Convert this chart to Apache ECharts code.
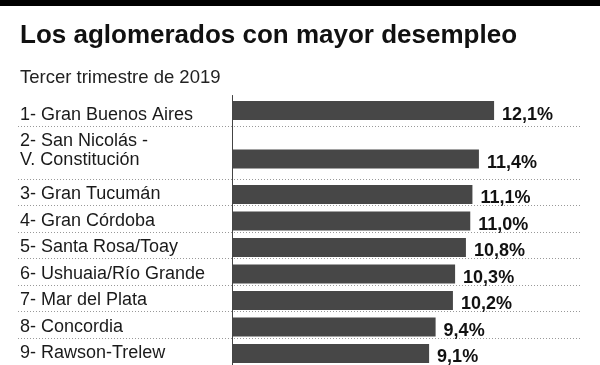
<!DOCTYPE html>
<html>
<head>
<meta charset="utf-8">
<script src="https://cdn.jsdelivr.net/npm/echarts@6/dist/echarts.min.js"></script>
<style>
  html, body { margin: 0; padding: 0; background: #fff; }
  #chart { width: 600px; height: 365px; }
</style>
</head>
<body>
<div id="chart"></div>
<script>
// ---- Data ----
const titleText = 'Los aglomerados con mayor desempleo';
const subtitleText = 'Tercer trimestre de 2019';
const categories = [
  '1- Gran Buenos Aires',
  '2- San Nicolás -\nV. Constitución',
  '3- Gran Tucumán',
  '4- Gran Córdoba',
  '5- Santa Rosa/Toay',
  '6- Ushuaia/Río Grande',
  '7- Mar del Plata',
  '8- Concordia',
  '9- Rawson-Trelew'
];
const values = [12.1, 11.4, 11.1, 11.0, 10.8, 10.3, 10.2, 9.4, 9.1];

// ---- Layout (rows are split into fine slots; row 2 is a double-height row) ----
const SLOTS = 62;
const barSlot   = [3, 14, 22, 28, 34, 40, 46, 52, 58];
const labelSlot = [4, 12, 22, 28, 34, 40, 46, 52, 58];
const rowStart  = [0, 7, 19, 25, 31, 37, 43, 49, 55];
const SLOT_H = 26.5 / 6;
const GRID_TOP = 95.08;
const ZERO_X = 232, PX_PER_UNIT = 21.66, GRID_L = 18, GRID_R = 18;
const FONT = 'Liberation Sans, Arial, sans-serif';

const slotNames = Array.from({length: SLOTS}, (_, i) => 's' + i);
const slotValues = Array(SLOTS).fill('-');
barSlot.forEach((s, i) => { slotValues[s] = values[i]; });
const slotLabels = Array(SLOTS).fill('');
labelSlot.forEach((s, i) => { slotLabels[s] = categories[i]; });
const separatorSlots = rowStart.slice(1);

const fmt = v => v.toFixed(1).replace('.', ',') + '%';

const chart = echarts.init(document.getElementById('chart'), null, {renderer: 'canvas'});
chart.setOption({
  animation: false,
  backgroundColor: '#ffffff',
  textStyle: { fontFamily: FONT },
  title: [
    { text: titleText, left: 20, top: 23, padding: 0,
      textStyle: { fontSize: 26, fontWeight: 'bold', color: '#111', fontFamily: FONT } },
    { text: subtitleText, left: 20, top: 68, padding: 0,
      textStyle: { fontSize: 18.5, fontWeight: 'normal', color: '#222', fontFamily: FONT } }
  ],
  graphic: [
    { type: 'rect', left: 0, top: 0, shape: { width: 600, height: 6 }, style: { fill: '#000' }, silent: true }
  ],
  grid: {
    left: GRID_L, right: GRID_R, top: GRID_TOP, height: SLOTS * SLOT_H,
    outerBoundsMode: 'none', containLabel: false
  },
  xAxis: {
    type: 'value',
    min: -(ZERO_X - GRID_L) / PX_PER_UNIT,
    max: (600 - GRID_R - ZERO_X) / PX_PER_UNIT,
    show: false,
    splitLine: { show: false }
  },
  yAxis: {
    type: 'category',
    inverse: true,
    data: slotNames,
    position: 'left',
    axisTick: { show: false },
    axisLine: { show: false, onZero: false },
    axisLabel: {
      show: true,
      inside: true,
      interval: 0,
      align: 'left',
      margin: 2,
      fontSize: 18,
      lineHeight: 19,
      color: '#1a1a1a',
      fontFamily: FONT,
      hideOverlap: false,
      formatter: (v, i) => slotLabels[i]
    },
    splitLine: {
      show: true,
      interval: (i) => separatorSlots.includes(i),
      lineStyle: { color: '#999', width: 1, type: [1, 2] }
    }
  },
  series: [{
    type: 'bar',
    data: slotValues,
    barWidth: 19,
    itemStyle: { color: '#474747' },
    label: {
      show: true,
      position: 'right',
      distance: 8,
      offset: [0, 4],
      fontSize: 18,
      fontWeight: 'bold',
      color: '#111',
      fontFamily: FONT,
      formatter: p => fmt(p.value)
    },
    markLine: {
      silent: true,
      symbol: ['none', 'none'],
      label: { show: false },
      lineStyle: { color: '#444', width: 1, type: 'solid' },
      emphasis: { disabled: true },
      data: [{ xAxis: 0 }]
    }
  }]
});
</script>
</body>
</html>
